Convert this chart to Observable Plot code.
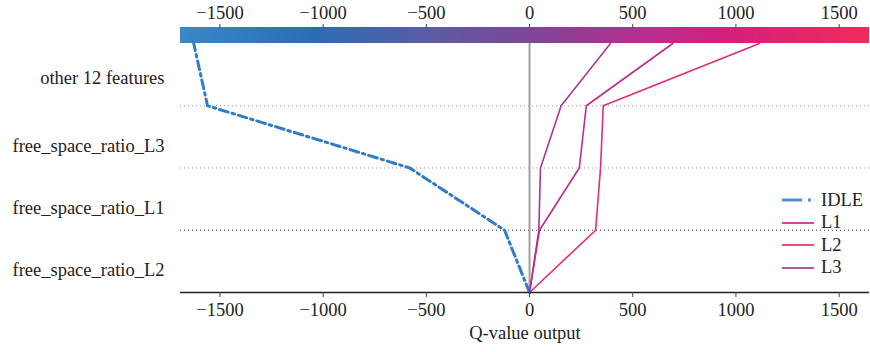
<!DOCTYPE html>
<html>
<head>
<meta charset="utf-8">
<script src="https://cdn.jsdelivr.net/npm/d3@7"></script>
<script src="https://cdn.jsdelivr.net/npm/@observablehq/plot@0.6"></script>
<style>
  html, body { margin: 0; padding: 0; background: #fff; }
  #wrap { position: relative; width: 870px; height: 352px; font-family: "Liberation Serif", "DejaVu Serif", serif; }
  #legend { position: absolute; left: 781px; top: 189px; font-size: 18.5px; color: #222; }
  #legend .row { display: flex; align-items: center; height: 22.5px; }
  #legend svg { margin-right: 6px; }
</style>
</head>
<body>
<div id="wrap"><div id="chart"></div><div id="legend"></div></div>
<script>
// Feature rows, bottom to top
const features = ["free_space_ratio_L2", "free_space_ratio_L1", "free_space_ratio_L3", "other 12 features"];
// Cumulative Q-value output at each row boundary (bottom -> top)
const seriesNames = ["IDLE", "L1", "L2", "L3"];
const idleValues = [0, -121, -580, -1560, -1627];
const l1Values = [0, 48, 241, 275, 694];
const l2Values = [0, 320, 344, 357, 1114];
const l3Values = [0, 45, 53, 153, 392];
const xTicks = [-1500, -1000, -500, 0, 500, 1000, 1500];
const xDomain = [-1691, 1647];
// colour bar stops
const colorStops = [-1691, -1040, -500, 0, 500, 1000, 1647];
const colorHex = ["#3a88c8", "#2a6db4", "#5a5ca6", "#7d4699", "#b3308f", "#d81f7b", "#f02b5a"];
const lineColors = {IDLE: "#2f7dc6", L1: "#c02a8e", L2: "#e62a78", L3: "#a8379b"};

const valuesBySeries = {IDLE: idleValues, L1: l1Values, L2: l2Values, L3: l3Values};
const table = seriesNames.flatMap(s => valuesBySeries[s].map((v, i) => ({series: s, x: v, y: i})));

const step = 4;
const bar = d3.range(xDomain[0], xDomain[1], step).map(v => ({x1: v, x2: Math.min(v + step + 0.5, xDomain[1]), c: v + step / 2}));

const fmt = d => d < 0 ? "\u2212" + Math.abs(d) : String(d);
const yTop = 4.257;
const plot = Plot.plot({
  width: 870,
  height: 352,
  marginLeft: 180,
  marginRight: 1,
  marginTop: 27,
  marginBottom: 60,
  style: "font-family: 'Liberation Serif', serif; font-size: 18.5px; color: #222; background: #fff;",
  x: {domain: xDomain, axis: null},
  y: {domain: [0, yTop], axis: null},
  color: {type: "linear", domain: colorStops, range: colorHex, interpolate: "rgb"},
  marks: [
    Plot.rect(bar, {x1: "x1", x2: "x2", y1: 4, y2: yTop, fill: "c", shapeRendering: "crispEdges"}),
    Plot.ruleY([2, 3], {stroke: "#999", strokeWidth: 1, strokeDasharray: "1,3"}),
    Plot.ruleY([1], {stroke: "#333", strokeWidth: 1, strokeDasharray: "1,3"}),
    Plot.ruleX([0], {y1: 0, y2: 4, stroke: "#a0a0a0", strokeWidth: 2}),
    Plot.line(table.filter(d => d.series === "L3"), {x: "x", y: "y", stroke: lineColors.L3, strokeWidth: 1.6}),
    Plot.line(table.filter(d => d.series === "L1"), {x: "x", y: "y", stroke: lineColors.L1, strokeWidth: 1.6}),
    Plot.line(table.filter(d => d.series === "L2"), {x: "x", y: "y", stroke: lineColors.L2, strokeWidth: 1.6}),
    Plot.line(table.filter(d => d.series === "IDLE"), {x: "x", y: "y", stroke: lineColors.IDLE, strokeWidth: 3, strokeDasharray: "9,4,2.5,4"}),
    Plot.ruleY([0], {stroke: "#222", strokeWidth: 1.5}),
    Plot.axisX({anchor: "bottom", ticks: xTicks, tickSize: 5, tickPadding: 5, label: null, tickFormat: fmt, stroke: "#444"}),
    Plot.axisX({anchor: "top", ticks: xTicks, tickSize: 4, tickPadding: 5, label: null, tickFormat: fmt, stroke: "#444"}),
    Plot.axisY({ticks: [0.5, 1.5, 2.5], tickFormat: t => features[Math.floor(t)], tickSize: 0, tickPadding: 16, dy: 9, label: null}),
    Plot.axisY({ticks: [3.5], tickFormat: t => features[Math.floor(t)], tickSize: 0, tickPadding: 16, dy: 3, label: null}),
    Plot.text(["Q-value output"], {frameAnchor: "bottom", dy: 46, fill: "#222"})
  ]
});
document.getElementById("chart").appendChild(plot);

// legend
const legend = d3.select("#legend");
seriesNames.forEach(s => {
  const row = legend.append("div").attr("class", "row");
  const svg = row.append("svg").attr("width", 34).attr("height", 8);
  svg.append("line").attr("x1", 1).attr("x2", 33).attr("y1", 4).attr("y2", 4)
    .attr("stroke", lineColors[s]).attr("stroke-width", s === "IDLE" ? 3 : 2)
    .attr("stroke-opacity", 0.85)
    .attr("stroke-dasharray", s === "IDLE" ? "20,6,3,20" : null);
  row.append("span").text(s);
});
</script>
</body>
</html>
